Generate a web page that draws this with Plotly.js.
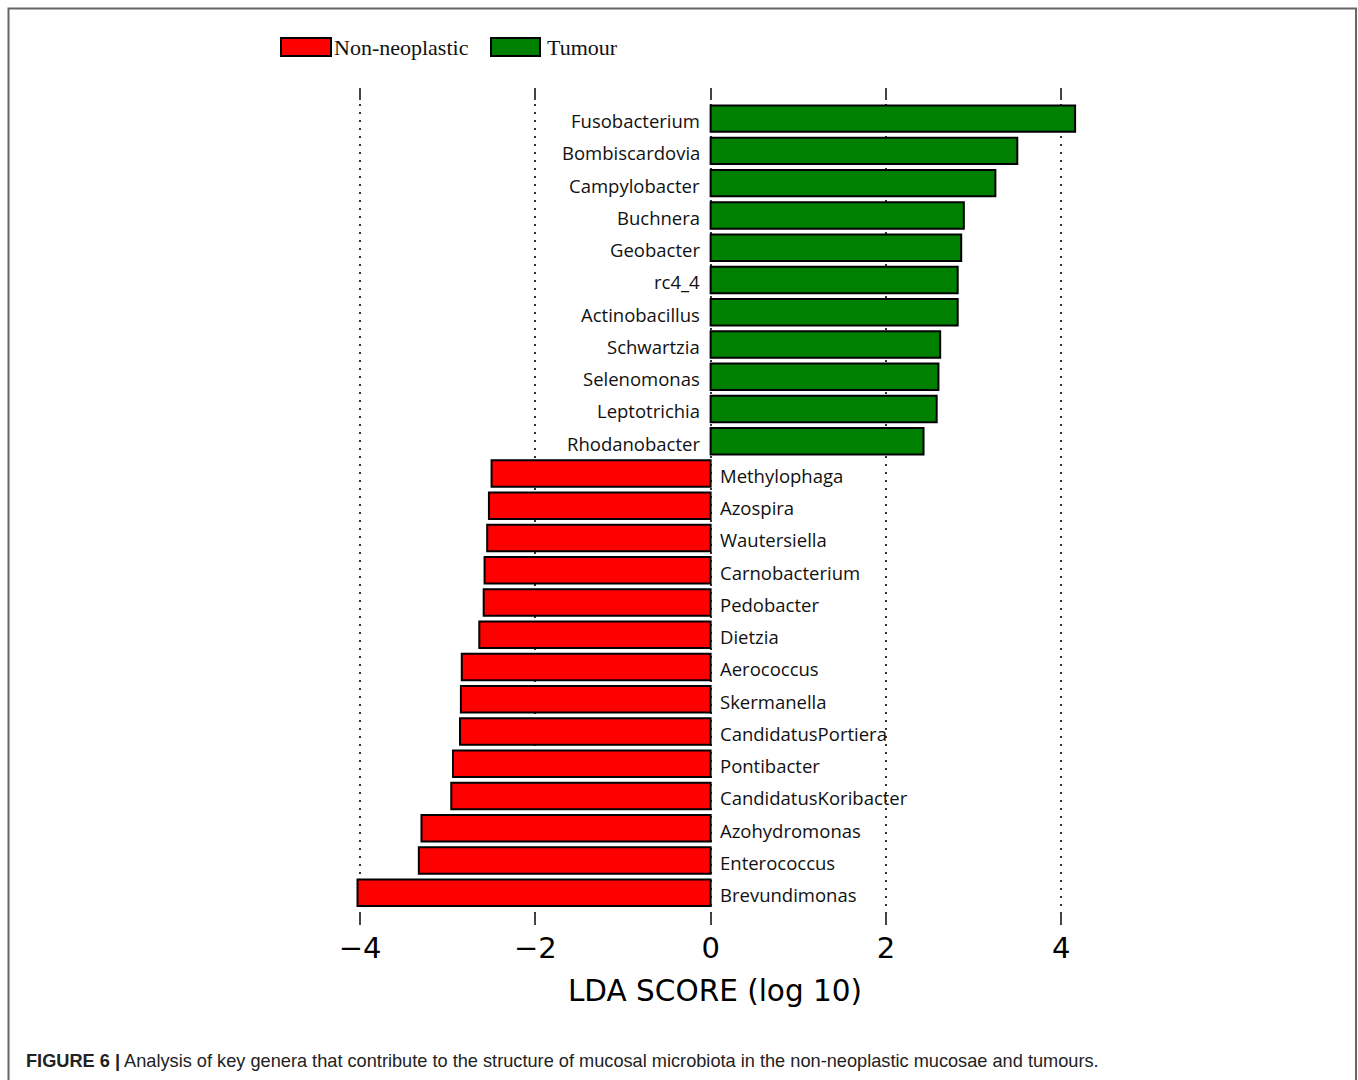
<!DOCTYPE html>
<html>
<head>
<meta charset="utf-8">
<script src="https://cdn.plot.ly/plotly-3.0.1.min.js"></script>
<style>
  html, body { margin: 0; padding: 0; background: #ffffff; }
  #chart { width: 1358px; height: 1080px; }
</style>
</head>
<body>
<div id="chart"></div>
<script>
// ---- Data (top to bottom as shown) ----
const tumourGenera = ["Fusobacterium", "Bombiscardovia", "Campylobacter", "Buchnera", "Geobacter",
  "rc4_4", "Actinobacillus", "Schwartzia", "Selenomonas", "Leptotrichia", "Rhodanobacter"];
const tumourScores = [4.16, 3.50, 3.25, 2.89, 2.86, 2.82, 2.82, 2.62, 2.60, 2.58, 2.43];

const nonGenera = ["Methylophaga", "Azospira", "Wautersiella", "Carnobacterium", "Pedobacter",
  "Dietzia", "Aerococcus", "Skermanella", "CandidatusPortiera", "Pontibacter",
  "CandidatusKoribacter", "Azohydromonas", "Enterococcus", "Brevundimonas"];
const nonScores = [-2.50, -2.53, -2.55, -2.58, -2.59, -2.64, -2.84, -2.85, -2.86, -2.94,
  -2.96, -3.30, -3.33, -4.03];

const seriesNames = ["Non-neoplastic", "Tumour"];
const xTickVals = [-4, -2, 0, 2, 4];
const xTickText = ["\u22124", "\u22122", "0", "2", "4"];
const xTitle = "LDA SCORE (log 10)";
const captionBold = "FIGURE 6 |";
const captionText = " Analysis of key genera that contribute to the structure of mucosal microbiota in the non-neoplastic mucosae and tumours.";

// ---- Layout geometry ----
const W = 1358, H = 1080;
const M = { l: 347, r: 275, t: 88, b: 155 };
const plotW = W - M.l - M.r, plotH = H - M.t - M.b;
const px2x = p => (p - M.l) / plotW;
const px2y = p => (H - M.b - p) / plotH;

// category order bottom -> top
const allOrder = nonGenera.slice().reverse().concat(tumourGenera.slice().reverse());

const RED = "#ff0000", GREEN = "#008000";

const traces = [
  {
    type: "bar", orientation: "h", name: seriesNames[0],
    x: nonScores, y: nonGenera, width: 0.82,
    marker: { color: RED, line: { color: "#000000", width: 2 } },
    showlegend: false, hoverinfo: "x+y"
  },
  {
    type: "bar", orientation: "h", name: seriesNames[1],
    x: tumourScores, y: tumourGenera, width: 0.82,
    marker: { color: GREEN, line: { color: "#000000", width: 2 } },
    showlegend: false, hoverinfo: "x+y"
  }
];

const labelFont = { family: "Open Sans, sans-serif", size: 18.5, color: "#111111" };
const annotations = [];
tumourGenera.forEach(g => annotations.push({
  x: 0, y: g, xref: "x", yref: "y", text: g, showarrow: false,
  xanchor: "right", yanchor: "middle", xshift: -9, yshift: -2, font: labelFont
}));
nonGenera.forEach(g => annotations.push({
  x: 0, y: g, xref: "x", yref: "y", text: g, showarrow: false,
  xanchor: "left", yanchor: "middle", xshift: 7, yshift: -2, font: labelFont
}));

// legend (custom wide patches)
const legFont = { family: "Liberation Serif, Times New Roman, serif", size: 22, color: "#111111" };
const legendItems = [
  { name: seriesNames[0], color: RED, x0: 281, x1: 331, tx: 332 },
  { name: seriesNames[1], color: GREEN, x0: 491, x1: 540, tx: 545 }
];
const shapes = [];
legendItems.forEach(it => {
  shapes.push({
    type: "rect", xref: "paper", yref: "paper",
    x0: px2x(it.x0), x1: px2x(it.x1), y0: px2y(56), y1: px2y(38),
    fillcolor: it.color, line: { color: "#000000", width: 2 }
  });
  annotations.push({
    xref: "paper", yref: "paper", x: px2x(it.tx), y: px2y(47),
    text: it.name, showarrow: false, xanchor: "left", yanchor: "middle", font: legFont
  });
});

// figure frame (left, top, right)
shapes.push({
  type: "rect", xref: "paper", yref: "paper",
  x0: px2x(8.5), x1: px2x(1356), y0: px2y(1100), y1: px2y(8.5),
  line: { color: "#666666", width: 2 }, fillcolor: "rgba(0,0,0,0)", layer: "below"
});

// caption
annotations.push({
  xref: "paper", yref: "paper", x: px2x(24), y: px2y(1061),
  text: "<b>" + captionBold + "</b>" + captionText, showarrow: false,
  xanchor: "left", yanchor: "middle",
  font: { family: "Liberation Sans, Arial, sans-serif", size: 18.2, color: "#222222" }
});

const layout = {
  width: W, height: H,
  margin: M,
  paper_bgcolor: "#ffffff", plot_bgcolor: "#ffffff",
  barmode: "overlay",
  showlegend: false,
  xaxis: {
    range: [-4.15, 4.25],
    tickvals: xTickVals, ticktext: xTickText,
    ticks: "inside", ticklen: 12, tickwidth: 2, tickcolor: "#444444",
    mirror: "ticks", showline: false,
    showgrid: true, gridcolor: "#333333", griddash: "2px,6px", gridwidth: 2,
    zeroline: false,
    ticklabelstandoff: 3,
    tickfont: { family: "DejaVu Sans, sans-serif", size: 29, color: "#000000" },
    title: { text: xTitle, font: { family: "DejaVu Sans, sans-serif", size: 29.5, color: "#000000" }, standoff: 16 },
    fixedrange: true
  },
  yaxis: {
    type: "category",
    categoryorder: "array", categoryarray: allOrder,
    range: [-1.0, 24.95],
    showticklabels: false, ticks: "", showgrid: false, zeroline: false, showline: false,
    fixedrange: true
  },
  shapes: shapes,
  annotations: annotations
};

Plotly.newPlot("chart", traces, layout, { displayModeBar: false, staticPlot: true });
</script>
</body>
</html>
